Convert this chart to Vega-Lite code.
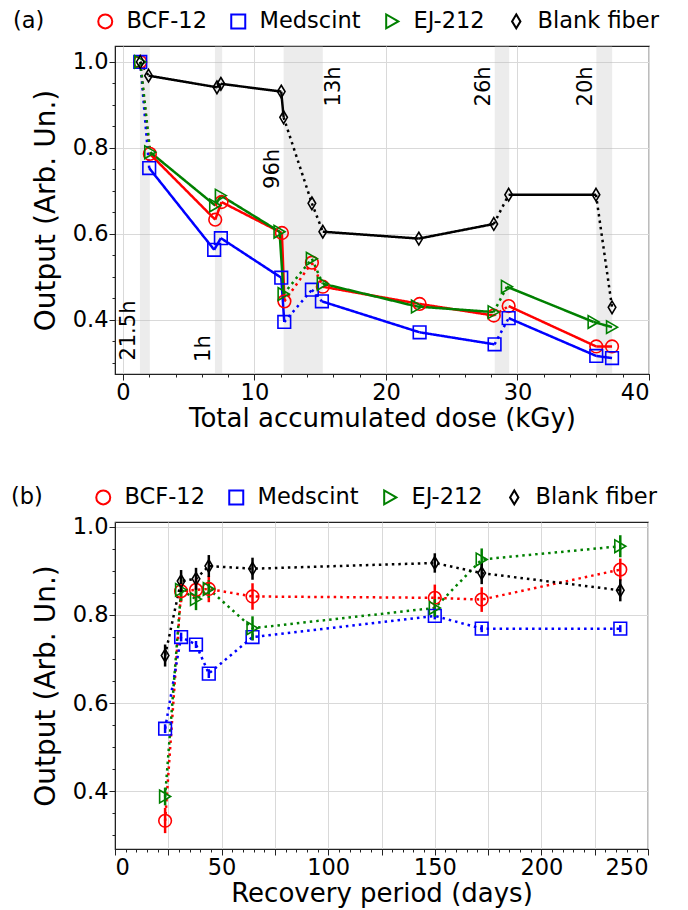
{
  "$schema": "https://vega.github.io/schema/vega-lite/v6.json",
  "background": "white",
  "padding": {"left": 10, "top": 9, "right": 5, "bottom": 5},
  "spacing": 52,
  "resolve": {"scale": {"color": "independent", "shape": "independent"}, "legend": {"color": "independent", "shape": "independent"}},
  "config": {
    "font": "DejaVu Sans",
    "view": {"stroke": "#222222", "strokeWidth": 1.2},
    "axis": {
      "labelFont": "DejaVu Sans", "titleFont": "DejaVu Sans",
      "labelColor": "#000000", "titleColor": "#000000",
      "labelFontSize": 22.5, "titleFontSize": 26, "titleFontWeight": "normal",
      "domainColor": "#222222", "tickColor": "#222222", "gridColor": "#d9d9d9",
      "tickSize": 6, "labelPadding": 1
    },
    "legend": {
      "labelFont": "DejaVu Sans", "labelFontSize": 22.5, "labelColor": "#000000",
      "titleFont": "DejaVu Sans", "titleFontSize": 22.5, "titleFontWeight": "normal", "titleColor": "#000000"
    }
  },
  "datasets": {
    "bands": [
      {"start": 1.3, "end": 2.05},
      {"start": 7.0, "end": 7.55},
      {"start": 12.22, "end": 15.2},
      {"start": 28.27, "end": 29.37},
      {"start": 36.0, "end": 37.2}
    ],
    "bandLabels": [
      {"label": "21.5h", "x": 0.5, "y": 0.375},
      {"label": "1h", "x": 6.2, "y": 0.333},
      {"label": "96h", "x": 11.4, "y": 0.751},
      {"label": "13h", "x": 16.08, "y": 0.943},
      {"label": "26h", "x": 27.45, "y": 0.943},
      {"label": "20h", "x": 35.2, "y": 0.943}
    ],
    "dose": [
      {"series": "BCF-12", "i": 1, "dose": 1.32, "output": 1.0, "link": "dotted"},
      {"series": "BCF-12", "i": 2, "dose": 2.05, "output": 0.786, "link": "solid"},
      {"series": "BCF-12", "i": 3, "dose": 7.02, "output": 0.633, "link": "solid"},
      {"series": "BCF-12", "i": 4, "dose": 7.5, "output": 0.674, "link": "solid"},
      {"series": "BCF-12", "i": 5, "dose": 12.09, "output": 0.602, "link": "solid"},
      {"series": "BCF-12", "i": 6, "dose": 12.28, "output": 0.443, "link": "dotted"},
      {"series": "BCF-12", "i": 7, "dose": 14.37, "output": 0.533, "link": "dotted"},
      {"series": "BCF-12", "i": 8, "dose": 15.2, "output": 0.477, "link": "solid"},
      {"series": "BCF-12", "i": 9, "dose": 22.56, "output": 0.437, "link": "solid"},
      {"series": "BCF-12", "i": 10, "dose": 28.2, "output": 0.41, "link": "dotted"},
      {"series": "BCF-12", "i": 11, "dose": 29.33, "output": 0.432, "link": "solid"},
      {"series": "BCF-12", "i": 12, "dose": 35.99, "output": 0.338, "link": "solid"},
      {"series": "BCF-12", "i": 13, "dose": 37.19, "output": 0.338, "link": "none"},
      {"series": "Medscint", "i": 1, "dose": 1.32, "output": 1.0, "link": "dotted"},
      {"series": "Medscint", "i": 2, "dose": 2.0, "output": 0.753, "link": "solid"},
      {"series": "Medscint", "i": 3, "dose": 6.94, "output": 0.563, "link": "solid"},
      {"series": "Medscint", "i": 4, "dose": 7.45, "output": 0.59, "link": "solid"},
      {"series": "Medscint", "i": 5, "dose": 12.04, "output": 0.498, "link": "solid"},
      {"series": "Medscint", "i": 6, "dose": 12.27, "output": 0.395, "link": "dotted"},
      {"series": "Medscint", "i": 7, "dose": 14.37, "output": 0.47, "link": "dotted"},
      {"series": "Medscint", "i": 8, "dose": 15.13, "output": 0.443, "link": "solid"},
      {"series": "Medscint", "i": 9, "dose": 22.56, "output": 0.371, "link": "solid"},
      {"series": "Medscint", "i": 10, "dose": 28.26, "output": 0.343, "link": "dotted"},
      {"series": "Medscint", "i": 11, "dose": 29.33, "output": 0.404, "link": "solid"},
      {"series": "Medscint", "i": 12, "dose": 35.99, "output": 0.316, "link": "solid"},
      {"series": "Medscint", "i": 13, "dose": 37.19, "output": 0.311, "link": "none"},
      {"series": "EJ-212", "i": 1, "dose": 1.32, "output": 1.0, "link": "dotted"},
      {"series": "EJ-212", "i": 2, "dose": 2.08, "output": 0.79, "link": "solid"},
      {"series": "EJ-212", "i": 3, "dose": 7.02, "output": 0.666, "link": "solid"},
      {"series": "EJ-212", "i": 4, "dose": 7.45, "output": 0.689, "link": "solid"},
      {"series": "EJ-212", "i": 5, "dose": 11.91, "output": 0.605, "link": "solid"},
      {"series": "EJ-212", "i": 6, "dose": 12.22, "output": 0.46, "link": "dotted"},
      {"series": "EJ-212", "i": 7, "dose": 14.37, "output": 0.542, "link": "dotted"},
      {"series": "EJ-212", "i": 8, "dose": 15.2, "output": 0.484, "link": "solid"},
      {"series": "EJ-212", "i": 9, "dose": 22.36, "output": 0.431, "link": "solid"},
      {"series": "EJ-212", "i": 10, "dose": 28.19, "output": 0.418, "link": "dotted"},
      {"series": "EJ-212", "i": 11, "dose": 29.2, "output": 0.477, "link": "solid"},
      {"series": "EJ-212", "i": 12, "dose": 35.79, "output": 0.395, "link": "solid"},
      {"series": "EJ-212", "i": 13, "dose": 37.19, "output": 0.383, "link": "none"},
      {"series": "Blank fiber", "i": 1, "dose": 1.32, "output": 1.0, "link": "dotted"},
      {"series": "Blank fiber", "i": 2, "dose": 1.95, "output": 0.968, "link": "solid"},
      {"series": "Blank fiber", "i": 3, "dose": 7.15, "output": 0.941, "link": "solid"},
      {"series": "Blank fiber", "i": 4, "dose": 7.45, "output": 0.949, "link": "solid"},
      {"series": "Blank fiber", "i": 5, "dose": 12.04, "output": 0.931, "link": "solid"},
      {"series": "Blank fiber", "i": 6, "dose": 12.22, "output": 0.871, "link": "dotted"},
      {"series": "Blank fiber", "i": 7, "dose": 14.37, "output": 0.671, "link": "dotted"},
      {"series": "Blank fiber", "i": 8, "dose": 15.2, "output": 0.605, "link": "solid"},
      {"series": "Blank fiber", "i": 9, "dose": 22.5, "output": 0.589, "link": "solid"},
      {"series": "Blank fiber", "i": 10, "dose": 28.2, "output": 0.623, "link": "dotted"},
      {"series": "Blank fiber", "i": 11, "dose": 29.33, "output": 0.691, "link": "solid"},
      {"series": "Blank fiber", "i": 12, "dose": 35.97, "output": 0.691, "link": "dotted"},
      {"series": "Blank fiber", "i": 13, "dose": 37.19, "output": 0.429, "link": "none"}
    ],
    "recovery": [
      {"series": "BCF-12", "days": 23.5, "output": 0.333, "lo": 0.305, "hi": 0.362},
      {"series": "BCF-12", "days": 31, "output": 0.854, "lo": 0.829, "hi": 0.879},
      {"series": "BCF-12", "days": 38, "output": 0.857, "lo": 0.832, "hi": 0.882},
      {"series": "BCF-12", "days": 44, "output": 0.859, "lo": 0.829, "hi": 0.889},
      {"series": "BCF-12", "days": 64.5, "output": 0.842, "lo": 0.812, "hi": 0.872},
      {"series": "BCF-12", "days": 150, "output": 0.839, "lo": 0.809, "hi": 0.869},
      {"series": "BCF-12", "days": 172, "output": 0.835, "lo": 0.807, "hi": 0.863},
      {"series": "BCF-12", "days": 237, "output": 0.903, "lo": 0.878, "hi": 0.928},
      {"series": "Medscint", "days": 23.5, "output": 0.542, "lo": 0.532, "hi": 0.552},
      {"series": "Medscint", "days": 31, "output": 0.75, "lo": 0.74, "hi": 0.76},
      {"series": "Medscint", "days": 38, "output": 0.733, "lo": 0.725, "hi": 0.741},
      {"series": "Medscint", "days": 44, "output": 0.667, "lo": 0.657, "hi": 0.677},
      {"series": "Medscint", "days": 64.5, "output": 0.75, "lo": 0.742, "hi": 0.758},
      {"series": "Medscint", "days": 150, "output": 0.798, "lo": 0.79, "hi": 0.806},
      {"series": "Medscint", "days": 172, "output": 0.769, "lo": 0.761, "hi": 0.777},
      {"series": "Medscint", "days": 237, "output": 0.769, "lo": 0.761, "hi": 0.777},
      {"series": "EJ-212", "days": 23.5, "output": 0.388, "lo": 0.368, "hi": 0.408},
      {"series": "EJ-212", "days": 31, "output": 0.857, "lo": 0.832, "hi": 0.882},
      {"series": "EJ-212", "days": 38, "output": 0.836, "lo": 0.811, "hi": 0.861},
      {"series": "EJ-212", "days": 44, "output": 0.859, "lo": 0.839, "hi": 0.879},
      {"series": "EJ-212", "days": 64.5, "output": 0.77, "lo": 0.743, "hi": 0.797},
      {"series": "EJ-212", "days": 150, "output": 0.816, "lo": 0.796, "hi": 0.836},
      {"series": "EJ-212", "days": 172, "output": 0.926, "lo": 0.901, "hi": 0.951},
      {"series": "EJ-212", "days": 237, "output": 0.956, "lo": 0.931, "hi": 0.981},
      {"series": "Blank fiber", "days": 23.5, "output": 0.708, "lo": 0.683, "hi": 0.733},
      {"series": "Blank fiber", "days": 31, "output": 0.877, "lo": 0.852, "hi": 0.902},
      {"series": "Blank fiber", "days": 38, "output": 0.882, "lo": 0.857, "hi": 0.907},
      {"series": "Blank fiber", "days": 44, "output": 0.911, "lo": 0.886, "hi": 0.936},
      {"series": "Blank fiber", "days": 64.5, "output": 0.905, "lo": 0.88, "hi": 0.93},
      {"series": "Blank fiber", "days": 150, "output": 0.918, "lo": 0.896, "hi": 0.94},
      {"series": "Blank fiber", "days": 172, "output": 0.895, "lo": 0.87, "hi": 0.92},
      {"series": "Blank fiber", "days": 237, "output": 0.856, "lo": 0.831, "hi": 0.881}
    ]
  },
  "vconcat": [
    {
      "width": 534,
      "height": 328,
      "layer": [
        {
          "data": {"name": "bands"},
          "mark": {"type": "rect", "color": "#bbbbbb", "opacity": 0.28},
          "encoding": {
            "x": {"field": "start", "type": "quantitative",
              "scale": {"domain": [-0.6, 40], "nice": false, "zero": false},
              "axis": {"orient": "bottom", "values": [0,2,4,6,8,10,12,14,16,18,20,22,24,26,28,30,32,34,36,38,40], "labels": false, "grid": false, "domain": false, "tickSize": 3, "title": null}},
            "x2": {"field": "end"}
          }
        },
        {
          "data": {"name": "bandLabels"},
          "mark": {"type": "text", "angle": 270, "fontSize": 21, "align": "center", "baseline": "middle", "color": "#000000", "font": "DejaVu Sans"},
          "encoding": {
            "x": {"field": "x", "type": "quantitative", "scale": {"domain": [-0.6, 40], "nice": false, "zero": false}, "axis": null},
            "y": {"field": "y", "type": "quantitative", "scale": {"domain": [0.274, 1.037], "nice": false, "zero": false}, "axis": null},
            "text": {"field": "label"}
          }
        },
        {
          "data": {"name": "dose"},
          "transform": [
            {"window": [{"op": "lead", "field": "dose", "as": "next_dose"}, {"op": "lead", "field": "output", "as": "next_output"}], "groupby": ["series"], "sort": [{"field": "i"}]},
            {"filter": "datum.next_dose != null"}
          ],
          "mark": {"type": "rule", "strokeWidth": 2.5, "strokeCap": "butt"},
          "encoding": {
            "x": {"field": "dose", "type": "quantitative", "scale": {"domain": [-0.6, 40], "nice": false, "zero": false}, "axis": null},
            "y": {"field": "output", "type": "quantitative", "scale": {"domain": [0.274, 1.037], "nice": false, "zero": false},
              "axis": {"orient": "left", "values": [0.3,0.35,0.45,0.5,0.55,0.65,0.7,0.75,0.85,0.9,0.95], "labels": false, "grid": false, "domain": false, "tickSize": 3, "title": null}},
            "x2": {"field": "next_dose"},
            "y2": {"field": "next_output"},
            "color": {"field": "series", "type": "nominal", "scale": {"domain": ["BCF-12", "Medscint", "EJ-212", "Blank fiber"], "range": ["#ff0000", "#0000ff", "#008000", "#000000"]}},
            "strokeDash": {"field": "link", "type": "nominal", "scale": {"domain": ["solid", "dotted"], "range": [[1, 0], [2.5, 4]]}, "legend": null}
          }
        },
        {
          "data": {"name": "dose"},
          "mark": {"type": "point", "filled": false, "size": 160, "strokeWidth": 1.6, "opacity": 1},
          "encoding": {
            "x": {"field": "dose", "type": "quantitative", "scale": {"domain": [-0.6, 40], "nice": false, "zero": false},
              "axis": {"orient": "bottom", "values": [0, 10, 20, 30, 40], "grid": true, "title": "Total accumulated dose (kGy)", "titlePadding": 2}},
            "y": {"field": "output", "type": "quantitative", "scale": {"domain": [0.274, 1.037], "nice": false, "zero": false},
              "axis": {"orient": "left", "values": [0.4, 0.6, 0.8, 1.0], "format": ".1f", "grid": true, "title": "Output (Arb. Un.)", "titleFontSize": 28, "titlePadding": 12}},
            "color": {"field": "series", "type": "nominal", "scale": {"domain": ["BCF-12", "Medscint", "EJ-212", "Blank fiber"], "range": ["#ff0000", "#0000ff", "#008000", "#000000"]},
              "legend": {
                "orient": "none", "legendX": -102, "legendY": -36, "direction": "horizontal",
                "title": "(a)", "titleOrient": "left", "titlePadding": 49,
                "symbolSize": 196, "symbolStrokeWidth": 2, "labelOffset": 10, "columnPadding": 20
              }},
            "shape": {"field": "series", "type": "nominal", "scale": {"domain": ["BCF-12", "Medscint", "EJ-212", "Blank fiber"], "range": ["circle", "square", "triangle-right", "M0,-1L0.6,0L0,1L-0.6,0Z"]}, "legend": null}
          }
        }
      ],
      "resolve": {"axis": {"x": "independent", "y": "independent"}}
    },
    {
      "width": 533,
      "height": 327,
      "layer": [
        {
          "data": {"name": "recovery"},
          "mark": {"type": "line", "strokeWidth": 2.5, "strokeDash": [2.5, 4]},
          "encoding": {
            "x": {"field": "days", "type": "quantitative", "scale": {"domain": [0, 250], "nice": false, "zero": false},
              "axis": {"orient": "bottom", "values": [0,5,10,15,20,25,30,35,40,45,50,55,60,65,70,75,80,85,90,95,100,105,110,115,120,125,130,135,140,145,150,155,160,165,170,175,180,185,190,195,200,205,210,215,220,225,230,235,240,245,250], "labels": false, "grid": false, "domain": false, "tickSize": 3, "title": null}},
            "y": {"field": "output", "type": "quantitative", "scale": {"domain": [0.269, 1.011], "nice": false, "zero": false},
              "axis": {"orient": "left", "values": [0.3,0.35,0.45,0.5,0.55,0.65,0.7,0.75,0.85,0.9,0.95], "labels": false, "grid": false, "domain": false, "tickSize": 3, "title": null}},
            "color": {"field": "series", "type": "nominal", "scale": {"domain": ["BCF-12", "Medscint", "EJ-212", "Blank fiber"], "range": ["#ff0000", "#0000ff", "#008000", "#000000"]}},
            "order": {"field": "days", "type": "quantitative"}
          }
        },
        {
          "data": {"name": "recovery"},
          "mark": {"type": "rule", "strokeWidth": 2.5},
          "encoding": {
            "x": {"field": "days", "type": "quantitative", "scale": {"domain": [0, 250], "nice": false, "zero": false}, "axis": null},
            "y": {"field": "lo", "type": "quantitative", "scale": {"domain": [0.269, 1.011], "nice": false, "zero": false}, "axis": null},
            "y2": {"field": "hi"},
            "color": {"field": "series", "type": "nominal", "scale": {"domain": ["BCF-12", "Medscint", "EJ-212", "Blank fiber"], "range": ["#ff0000", "#0000ff", "#008000", "#000000"]}}
          }
        },
        {
          "data": {"name": "recovery"},
          "mark": {"type": "point", "filled": false, "size": 160, "strokeWidth": 1.6, "opacity": 1},
          "encoding": {
            "x": {"field": "days", "type": "quantitative", "scale": {"domain": [0, 250], "nice": false, "zero": false},
              "axis": {"orient": "bottom", "values": [0, 25, 50, 75, 100, 125, 150, 175, 200, 225, 250], "grid": true, "title": "Recovery period (days)", "titlePadding": 2}},
            "y": {"field": "output", "type": "quantitative", "scale": {"domain": [0.269, 1.011], "nice": false, "zero": false},
              "axis": {"orient": "left", "values": [0.4, 0.6, 0.8, 1.0], "format": ".1f", "grid": true, "title": "Output (Arb. Un.)", "titleFontSize": 28, "titlePadding": 12}},
            "color": {"field": "series", "type": "nominal", "scale": {"domain": ["BCF-12", "Medscint", "EJ-212", "Blank fiber"], "range": ["#ff0000", "#0000ff", "#008000", "#000000"]},
              "legend": {
                "orient": "none", "legendX": -104, "legendY": -36, "direction": "horizontal",
                "title": "(b)", "titleOrient": "left", "titlePadding": 49,
                "symbolSize": 196, "symbolStrokeWidth": 2, "labelOffset": 10, "columnPadding": 20
              }},
            "shape": {"field": "series", "type": "nominal", "scale": {"domain": ["BCF-12", "Medscint", "EJ-212", "Blank fiber"], "range": ["circle", "square", "triangle-right", "M0,-1L0.6,0L0,1L-0.6,0Z"]}, "legend": null}
          }
        }
      ],
      "resolve": {"axis": {"x": "independent", "y": "independent"}}
    }
  ]
}
